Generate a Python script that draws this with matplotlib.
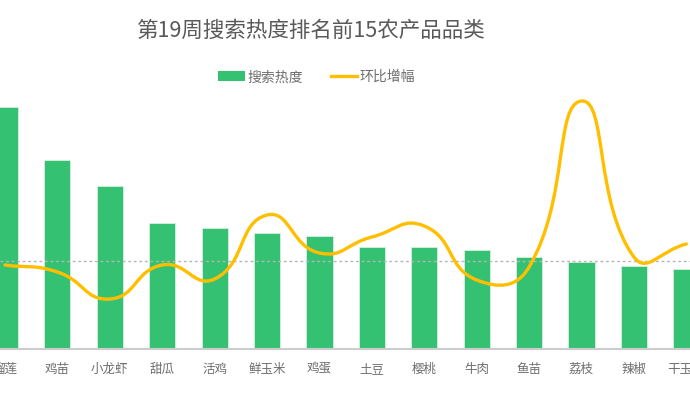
import numpy as np
import matplotlib
matplotlib.use('Agg')
from matplotlib import pyplot as plt
from matplotlib.path import Path
from matplotlib.patches import PathPatch, Patch
from matplotlib.lines import Line2D

plt.rcParams['font.family'] = ['Noto Sans CJK SC', 'DejaVu Sans']

# data
categories = ['榴莲', '鸡苗', '小龙虾', '甜瓜', '活鸡', '鲜玉米', '鸡蛋', '土豆',
              '樱桃', '牛肉', '鱼苗', '荔枝', '辣椒', '干玉米']
heat = [242, 189, 163, 126, 121, 116, 113, 102, 102, 99, 92, 87, 83, 80]
growth = [-4, -11, -38, -4, -18, 46, 8, 24, 35, -19, -6, 160, 4, 17]

title = '第19周搜索热度排名前15农产品品类'
green = '#34C172'
yellow = '#FFBF00'

fig = plt.figure(figsize=(6.9, 3.96), dpi=100)
ax = fig.add_axes([0, 47 / 396, 1, 254 / 396])
x = np.arange(len(categories))
ax.bar(x, heat, width=0.5, color=green, edgecolor='#d8efe0', linewidth=0.6, zorder=2)
ax.set_xlim(-0.095, 13.07)
ax.set_ylim(0, 254)
ax.set_xticks(x)
ax.set_xticklabels(categories, fontsize=9, color='#6e6e6e')
ax.tick_params(axis='x', length=0, pad=10)
ax.set_yticks([])
for s in ['top', 'right', 'left']:
    ax.spines[s].set_visible(False)
ax.spines['bottom'].set_color('#cccccc')
ax.spines['bottom'].set_linewidth(1.5)

ax2 = ax.twinx()
ax2.set_ylim(-88, 166)
ax2.set_yticks([])
for s in ax2.spines.values():
    s.set_visible(False)
ax2.axhline(0, color='#b5b5b5', linestyle=(0, (2, 2)), linewidth=1, zorder=1)

# smooth line (echarts-like bezier through each point, in display space)
pts = ax2.transData.transform(np.column_stack([x, growth]))
smooth = 0.5
verts = [pts[0]]
codes = [Path.MOVETO]
n = len(pts)
cps = []
for i in range(n):
    p = pts[i]
    prev = pts[i - 1] if i > 0 else p
    nxt = pts[i + 1] if i < n - 1 else p
    v = nxt - prev
    l0 = np.hypot(*(p - prev))
    l1 = np.hypot(*(nxt - p))
    r = l1 / (l0 + l1) if (l0 + l1) > 0 else 0.5
    cin = p - v * smooth * (1 - r)
    cout = p + v * smooth * r
    cps.append((cin, cout))
for i in range(1, n):
    verts += [cps[i - 1][1], cps[i][0], pts[i]]
    codes += [Path.CURVE4] * 3
verts = ax2.transData.inverted().transform(np.array(verts))
ax2.add_patch(PathPatch(Path(verts, codes), facecolor='none', edgecolor=yellow,
                        linewidth=2.4, capstyle='round', zorder=3))

fig.text(0.451, 0.922, title, ha='center', va='center', fontsize=15.5, color='#595959')

handles = [Patch(facecolor=green, edgecolor='none'),
           Line2D([0], [0], color=yellow, linewidth=2.4)]
fig.legend(handles, ['搜索热度', '环比增幅'], loc='center', bbox_to_anchor=(0.459, 0.805),
           ncol=2, frameon=False, fontsize=10, labelcolor='#6e6e6e',
           handlelength=1.9, handleheight=0.7, handletextpad=0.2, columnspacing=2.0)

fig.savefig('out.png', dpi=100)
